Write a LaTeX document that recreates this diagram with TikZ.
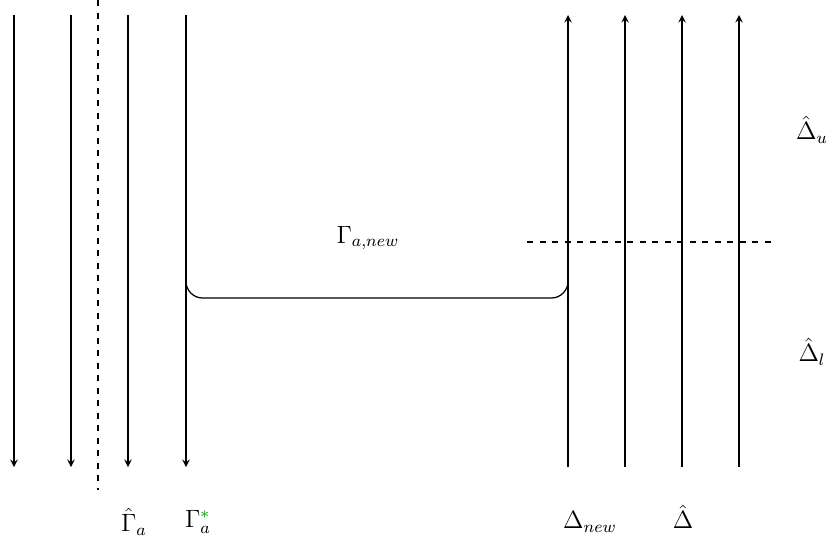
\documentclass[tikz,border=0pt]{standalone}
\usepackage{amsmath,amssymb}
\usepackage{xcolor}
\usepackage{tikz}

\begin{document}
\begin{tikzpicture}[
    x=0.48pt, y=-0.48pt,
    strand/.style={->,>=stealth,line width=0.6pt},
    cut/.style={dashed,line width=0.6pt},
    label/.style={inner sep=0pt, font=\large}
]
    \useasboundingbox (0,0) rectangle (836,558);

    % left strands, pointing down
    \coordinate (l1top) at (14,15);   \coordinate (l1bot) at (14,467);
    \coordinate (l2top) at (71,15);   \coordinate (l2bot) at (71,467);
    \coordinate (l3top) at (128,15);  \coordinate (l3bot) at (128,467);
    \coordinate (l4top) at (186,15);  \coordinate (l4bot) at (186,467);
    \draw[strand] (l1top) -- (l1bot);
    \draw[strand] (l2top) -- (l2bot);
    \draw[strand] (l3top) -- (l3bot);
    \draw[strand] (l4top) -- (l4bot);

    % right strands, pointing up
    \coordinate (r1bot) at (568,467); \coordinate (r1top) at (568,15);
    \coordinate (r2bot) at (625,467); \coordinate (r2top) at (625,15);
    \coordinate (r3bot) at (682,467); \coordinate (r3top) at (682,15);
    \coordinate (r4bot) at (739,467); \coordinate (r4top) at (739,15);
    \draw[strand] (r1bot) -- (r1top);
    \draw[strand] (r2bot) -- (r2top);
    \draw[strand] (r3bot) -- (r3top);
    \draw[strand] (r4bot) -- (r4top);

    % dashed cuts
    \coordinate (vcuttop) at (98,0);   \coordinate (vcutbot) at (98,490);
    \coordinate (hcutl) at (527,242);  \coordinate (hcutr) at (772,242);
    \draw[cut] (vcuttop) -- (vcutbot);
    \draw[cut] (hcutl) -- (hcutr);

    % joining arc
    \coordinate (joinl) at (186,280);
    \coordinate (joinr) at (568,280);
    \draw[line width=0.6pt, rounded corners=8pt] (joinl) -- (186,298) -- (568,298) -- (joinr);

    % labels
    \node[label] (gahat) at (134,522) {$\hat{\Gamma}_a$};
    \node[label] (gastar) at (198,522) {$\Gamma_a^{\textcolor{green!60!black}{*}}$};
    \node[label] (dnew) at (590,522) {$\Delta_{new}$};
    \node[label] (dhat) at (683,517) {$\hat{\Delta}$};
    \node[label] (ganew) at (368,238) {$\Gamma_{a,new}$};
    \node[label] (du) at (812,130) {$\hat{\Delta}_u$};
    \node[label] (dl) at (812,352) {$\hat{\Delta}_l$};
\end{tikzpicture}
\end{document}
